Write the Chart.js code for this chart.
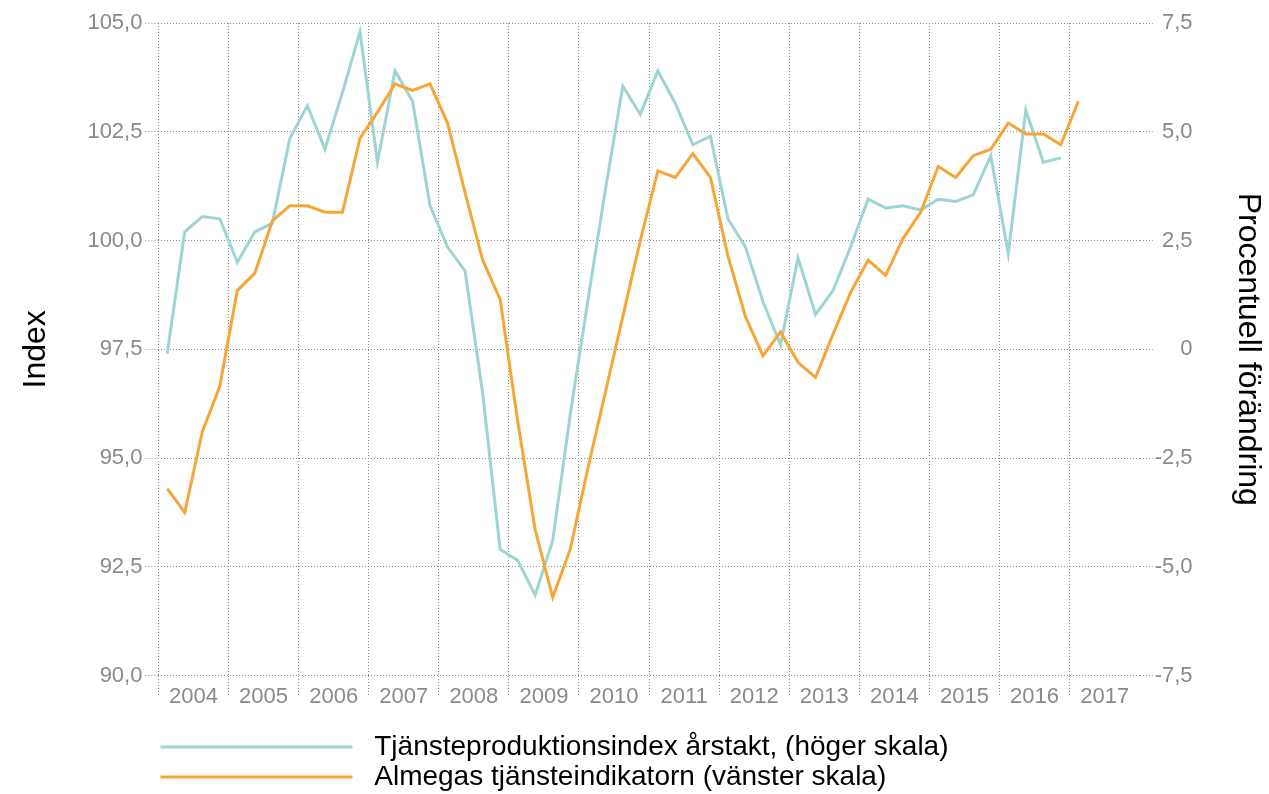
<!DOCTYPE html>
<html>
<head>
<meta charset="utf-8">
<script src="https://cdn.jsdelivr.net/npm/chart.js@4/dist/chart.umd.min.js"></script>
<style>
    html, body { margin: 0; padding: 0; background: #fff; overflow: hidden; }
    #wrap { width: 1269px; height: 794px; }
</style>
</head>
<body>
<div id="wrap"><canvas id="chart"></canvas></div>
<script>
// x axis: one label per year, four quarters each
const years = [2004, 2005, 2006, 2007, 2008, 2009, 2010, 2011, 2012, 2013, 2014, 2015, 2016, 2017];

// Tjänsteproduktionsindex, årstakt in % (right scale), 2004 K1 - 2016 K4
const tjansteproduktion = [
    -0.1, 2.7, 3.05, 3.0,
    2.0, 2.7, 2.9, 4.85,
    5.6, 4.6, 5.9, 7.3,
    4.3, 6.4, 5.7, 3.3,
    2.35, 1.8, -1.0, -4.6,
    -4.85, -5.65, -4.4, -1.5,
    1.1, 3.65, 6.05, 5.4,
    6.4, 5.65, 4.7, 4.9,
    3.0, 2.35, 1.1, 0.1,
    2.1, 0.8, 1.35, 2.35,
    3.45, 3.25, 3.3, 3.2,
    3.45, 3.4, 3.55, 4.45,
    2.2, 5.5, 4.3, 4.4
];

// Almegas tjänsteindikator, index (left scale), 2004 K1 - 2017 K1
const tjansteindikator = [
    94.3, 93.75, 95.6, 96.65,
    98.85, 99.25, 100.45, 100.8,
    100.8, 100.65, 100.65, 102.35,
    102.95, 103.6, 103.45, 103.6,
    102.7, 101.1, 99.55, 98.65,
    95.85, 93.35, 91.8, 92.9,
    94.75, 96.5, 98.25, 100.0,
    101.6, 101.45, 102.0, 101.45,
    99.65, 98.25, 97.35, 97.9,
    97.2, 96.85, 97.85, 98.8,
    99.55, 99.2, 100.05, 100.65,
    101.7, 101.45, 101.95, 102.1,
    102.7, 102.45, 102.45, 102.2,
    103.2
];

const leftRange = [90, 105];
const rightRange = [-7.5, 7.5];
const tickStep = 2.5;

const teal = '#9dd5d3';
const orange = '#f7a537';
const gridColor = '#8e8e8e';
const labelColor = '#8a8a8a';
const fontFamily = "'Liberation Sans', Arial, sans-serif";

const quarterCount = years.length * 4;

// each quarter sits in the middle of its slot
function toPoints(values) {
    return values.map((v, i) => ({ x: i + 0.5, y: v }));
}

function commaLabel(v) {
    if (v === 0) return '0';
    return v.toFixed(1).replace('.', ',');
}

// only year boundaries get a vertical line, not the right edge
function yearLineColor(c) {
    if (!c.tick) return 'transparent';
    const v = c.tick.value;
    return (v % 4 === 0 && v < quarterCount) ? gridColor : 'transparent';
}

const ctx = document.getElementById('chart').getContext('2d');

new Chart(ctx, {
    type: 'line',
    data: {
        datasets: [
            {
                label: 'Tjänsteproduktionsindex årstakt, (höger skala)',
                data: toPoints(tjansteproduktion),
                yAxisID: 'yRight',
                borderColor: teal,
                backgroundColor: teal,
                borderWidth: 3,
                pointRadius: 0,
                tension: 0,
                order: 1
            },
            {
                label: 'Almegas tjänsteindikatorn (vänster skala)',
                data: toPoints(tjansteindikator),
                yAxisID: 'yLeft',
                borderColor: orange,
                backgroundColor: orange,
                borderWidth: 3,
                pointRadius: 0,
                tension: 0,
                order: 0
            }
        ]
    },
    options: {
        responsive: true,
        maintainAspectRatio: false,
        animation: false,
        layout: { padding: { top: 23, bottom: -7, left: 0, right: 0 } },
        plugins: {
            legend: {
                position: 'bottom',
                align: 'start',
                fullSize: false,
                labels: {
                    boxWidth: 192,
                    boxHeight: 3,
                    padding: 2,
                    color: '#000',
                    font: { family: fontFamily, size: 28 },
                    generateLabels: (chart) => chart.data.datasets.map((ds, i) => ({
                        text: ' ' + ds.label,
                        fillStyle: ds.borderColor,
                        strokeStyle: ds.borderColor,
                        lineWidth: 0,
                        hidden: false,
                        datasetIndex: i
                    }))
                }
            },
            tooltip: { enabled: false }
        },
        scales: {
            x: {
                type: 'linear',
                min: 0,
                max: quarterCount,
                ticks: {
                    stepSize: 2,
                    autoSkip: false,
                    maxRotation: 0,
                    padding: -12,
                    color: labelColor,
                    font: { family: fontFamily, size: 22 },
                    callback: (v) => (v % 4 === 2) ? String(years[(v - 2) / 4]) : ''
                },
                grid: {
                    color: yearLineColor,
                    tickColor: yearLineColor,
                    tickLength: 20,
                    tickBorderDash: [1, 2]
                },
                border: { display: false, dash: [1, 2] },
                title: {
                    display: true,
                    text: '',
                    font: { size: 10, lineHeight: 1 },
                    padding: { top: 0, bottom: 23 }
                }
            },
            yLeft: {
                type: 'linear',
                position: 'left',
                min: leftRange[0],
                max: leftRange[1],
                ticks: {
                    stepSize: tickStep,
                    padding: 3,
                    color: labelColor,
                    font: { family: fontFamily, size: 22 },
                    callback: (v) => commaLabel(v)
                },
                grid: {
                    color: gridColor,
                    tickColor: gridColor,
                    tickLength: 13,
                    tickBorderDash: [1, 2]
                },
                border: { display: false, dash: [1, 2] },
                title: {
                    display: true,
                    text: 'Index',
                    color: '#000',
                    font: { family: fontFamily, size: 32 },
                    padding: { top: 17, bottom: 29 }
                }
            },
            yRight: {
                type: 'linear',
                position: 'right',
                min: rightRange[0],
                max: rightRange[1],
                ticks: {
                    stepSize: tickStep,
                    padding: 1,
                    crossAlign: 'far',
                    color: labelColor,
                    font: { family: fontFamily, size: 22 },
                    callback: (v) => commaLabel(v)
                },
                grid: {
                    drawOnChartArea: false,
                    color: gridColor,
                    tickColor: gridColor,
                    tickLength: 13,
                    tickBorderDash: [1, 2]
                },
                border: { display: false, dash: [1, 2] }
            },
            // empty outer axis that only carries the right-hand title
            yRightTitle: {
                type: 'linear',
                position: 'right',
                weight: 1,
                ticks: { display: false },
                grid: { display: false },
                border: { display: false },
                title: {
                    display: true,
                    text: 'Procentuell förändring',
                    color: '#000',
                    font: { family: fontFamily, size: 32 },
                    padding: { top: 2, bottom: 28 }
                }
            }
        }
    }
});
</script>
</body>
</html>
